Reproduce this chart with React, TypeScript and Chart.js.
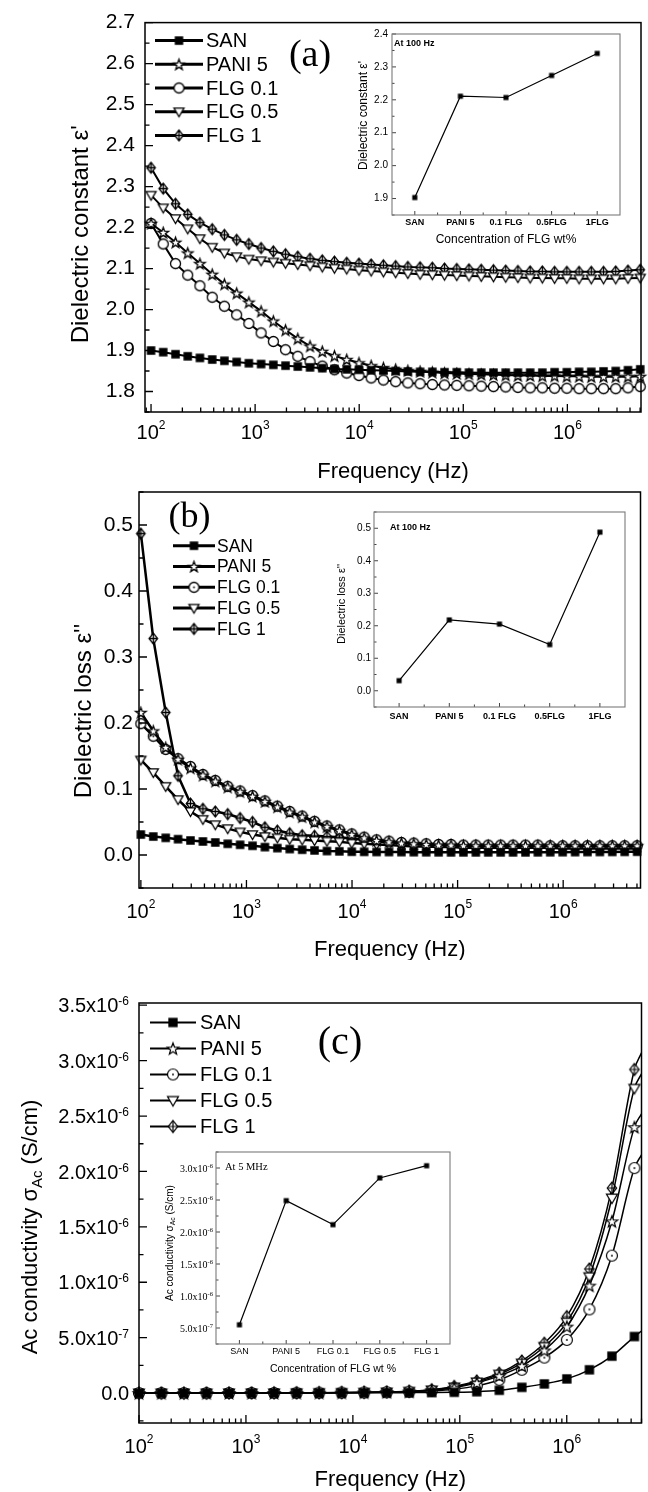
import { useEffect, useRef } from 'react';
import { Chart, registerables } from 'chart.js';

Chart.register(...registerables);

const SANS = '"Liberation Sans", Arimo, Arial, Helvetica, sans-serif';
const SERIF = '"Liberation Serif", Tinos, "Times New Roman", serif';

// ---------------- data ----------------
const seriesNames = ['SAN', 'PANI 5', 'FLG 0.1', 'FLG 0.5', 'FLG 1'];
const markerKinds = ['square', 'star', 'circle', 'tri', 'diamond'];

// measured frequencies (Hz), panels (a) and (b)
const freqAB = [100, 131, 172, 225, 295, 387, 507, 665, 871, 1142, 1496, 1961, 2570, 3370, 4416, 5788, 7586, 9943, 13030, 17080, 22390, 29340, 38460, 50410, 66070, 86600, 113500, 148800, 195000, 255600, 335000, 439100, 575400, 754200, 988600, 1296000, 1698000, 2226000, 2917000, 3824000, 5012000];

// (a) dielectric constant
const epsSAN = [1.900, 1.896, 1.891, 1.886, 1.882, 1.878, 1.875, 1.872, 1.869, 1.867, 1.865, 1.863, 1.861, 1.859, 1.857, 1.855, 1.854, 1.853, 1.852, 1.851, 1.850, 1.849, 1.848, 1.848, 1.847, 1.847, 1.846, 1.846, 1.846, 1.846, 1.846, 1.846, 1.846, 1.847, 1.847, 1.848, 1.848, 1.849, 1.850, 1.852, 1.854];
const epsPANI5 = [2.210, 2.188, 2.164, 2.138, 2.112, 2.086, 2.062, 2.040, 2.018, 1.996, 1.972, 1.950, 1.929, 1.911, 1.898, 1.887, 1.878, 1.870, 1.863, 1.858, 1.854, 1.851, 1.849, 1.847, 1.845, 1.844, 1.843, 1.842, 1.841, 1.840, 1.839, 1.839, 1.838, 1.838, 1.837, 1.837, 1.836, 1.836, 1.836, 1.836, 1.837];
const epsFLG01 = [2.210, 2.160, 2.112, 2.084, 2.058, 2.030, 2.008, 1.987, 1.966, 1.943, 1.922, 1.902, 1.886, 1.873, 1.862, 1.853, 1.845, 1.839, 1.833, 1.828, 1.824, 1.821, 1.819, 1.817, 1.816, 1.815, 1.814, 1.813, 1.812, 1.811, 1.810, 1.809, 1.809, 1.808, 1.808, 1.807, 1.807, 1.807, 1.807, 1.809, 1.812];
const epsFLG05 = [2.279, 2.248, 2.222, 2.197, 2.173, 2.152, 2.138, 2.129, 2.123, 2.119, 2.116, 2.113, 2.110, 2.107, 2.104, 2.101, 2.099, 2.096, 2.094, 2.092, 2.090, 2.088, 2.086, 2.085, 2.084, 2.083, 2.082, 2.081, 2.080, 2.079, 2.078, 2.077, 2.077, 2.076, 2.076, 2.075, 2.075, 2.075, 2.075, 2.076, 2.077];
const epsFLG1 = [2.346, 2.295, 2.258, 2.232, 2.212, 2.196, 2.182, 2.170, 2.160, 2.150, 2.142, 2.135, 2.129, 2.124, 2.120, 2.117, 2.114, 2.112, 2.110, 2.108, 2.106, 2.104, 2.103, 2.102, 2.100, 2.099, 2.098, 2.097, 2.096, 2.095, 2.094, 2.093, 2.093, 2.092, 2.092, 2.092, 2.092, 2.092, 2.093, 2.095, 2.097];

// (b) dielectric loss
const lossSAN = [0.031, 0.028, 0.026, 0.024, 0.022, 0.0205, 0.019, 0.017, 0.0155, 0.014, 0.012, 0.0105, 0.009, 0.008, 0.007, 0.006, 0.0055, 0.005, 0.0048, 0.0046, 0.0045, 0.0044, 0.0043, 0.0042, 0.0041, 0.004, 0.004, 0.004, 0.004, 0.004, 0.004, 0.004, 0.0041, 0.0042, 0.0043, 0.0044, 0.0045, 0.0046, 0.0047, 0.0048, 0.005];
const lossPANI5 = [0.216, 0.188, 0.163, 0.145, 0.132, 0.121, 0.112, 0.103, 0.096, 0.089, 0.081, 0.073, 0.065, 0.058, 0.050, 0.043, 0.037, 0.031, 0.026, 0.022, 0.020, 0.018, 0.017, 0.016, 0.015, 0.015, 0.014, 0.014, 0.014, 0.014, 0.014, 0.014, 0.014, 0.014, 0.014, 0.014, 0.014, 0.014, 0.014, 0.014, 0.014];
const lossFLG01 = [0.199, 0.180, 0.160, 0.146, 0.134, 0.122, 0.113, 0.104, 0.097, 0.090, 0.082, 0.074, 0.066, 0.059, 0.051, 0.044, 0.038, 0.032, 0.027, 0.023, 0.021, 0.019, 0.018, 0.017, 0.016, 0.016, 0.015, 0.015, 0.015, 0.015, 0.015, 0.015, 0.015, 0.014, 0.014, 0.014, 0.014, 0.014, 0.014, 0.014, 0.014];
const lossFLG05 = [0.144, 0.125, 0.104, 0.084, 0.066, 0.054, 0.046, 0.040, 0.035, 0.031, 0.028, 0.026, 0.024, 0.023, 0.022, 0.021, 0.020, 0.018, 0.017, 0.016, 0.015, 0.014, 0.013, 0.013, 0.012, 0.012, 0.011, 0.011, 0.011, 0.011, 0.011, 0.011, 0.011, 0.011, 0.010, 0.010, 0.010, 0.010, 0.010, 0.010, 0.010];
const lossFLG1 = [0.487, 0.328, 0.216, 0.120, 0.078, 0.070, 0.066, 0.062, 0.056, 0.050, 0.042, 0.037, 0.033, 0.030, 0.029, 0.028, 0.027, 0.025, 0.023, 0.021, 0.019, 0.018, 0.017, 0.016, 0.015, 0.015, 0.014, 0.014, 0.013, 0.013, 0.013, 0.013, 0.013, 0.013, 0.013, 0.013, 0.013, 0.013, 0.013, 0.013, 0.013];

// (c) ac conductivity, in units of 1e-6 S/cm
const freqC = [100, 162, 263, 428, 695, 1129, 1833, 2977, 4835, 7852, 12750, 20710, 33640, 54630, 88720, 144100, 234000, 380000, 617100, 1002000, 1628000, 2644000, 4294000, 5000000];
const sigSAN = [0.000, 0.000, 0.000, 0.000, 0.000, 0.000, 0.001, 0.001, 0.001, 0.002, 0.002, 0.003, 0.004, 0.005, 0.007, 0.012, 0.025, 0.052, 0.083, 0.128, 0.210, 0.333, 0.510, 0.560];
const sigPANI5 = [0.000, 0.000, 0.000, 0.000, 0.001, 0.001, 0.001, 0.002, 0.003, 0.004, 0.006, 0.009, 0.014, 0.025, 0.048, 0.092, 0.155, 0.245, 0.385, 0.600, 0.970, 1.550, 2.400, 2.520];
const sigFLG01 = [0.000, 0.000, 0.000, 0.000, 0.001, 0.001, 0.001, 0.002, 0.003, 0.004, 0.005, 0.008, 0.012, 0.020, 0.035, 0.065, 0.120, 0.210, 0.320, 0.480, 0.755, 1.240, 2.030, 2.150];
const sigFLG05 = [0.000, 0.000, 0.000, 0.000, 0.001, 0.001, 0.001, 0.002, 0.003, 0.004, 0.006, 0.009, 0.015, 0.028, 0.055, 0.100, 0.170, 0.270, 0.420, 0.640, 1.050, 1.760, 2.750, 2.880];
const sigFLG1 = [0.000, 0.000, 0.000, 0.000, 0.001, 0.001, 0.002, 0.002, 0.003, 0.005, 0.007, 0.010, 0.016, 0.030, 0.060, 0.110, 0.180, 0.290, 0.450, 0.690, 1.120, 1.850, 2.920, 3.070];

// insets
const insetCatsAB = ['SAN', 'PANI 5', '0.1 FLG', '0.5FLG', '1FLG'];
const insetCatsC = ['SAN', 'PANI 5', 'FLG 0.1', 'FLG 0.5', 'FLG 1'];
const epsAt100Hz = [1.903, 2.211, 2.207, 2.274, 2.341];
const lossAt100Hz = [0.031, 0.218, 0.205, 0.142, 0.488];
const sigmaAt5MHz = [0.55, 2.49, 2.115, 2.845, 3.036];

// tick labels
const epsTicks = [1.8, 1.9, 2.0, 2.1, 2.2, 2.3, 2.4, 2.5, 2.6, 2.7];
const lossTicks = [0.0, 0.1, 0.2, 0.3, 0.4, 0.5];
const insetEpsTicks = [1.9, 2.0, 2.1, 2.2, 2.3, 2.4];
const freqTickValues = [1e2, 1e3, 1e4, 1e5, 1e6];
const freqTickExps = ['2', '3', '4', '5', '6'];
const sigmaTickValues = [0, 0.5, 1.0, 1.5, 2.0, 2.5, 3.0, 3.5];
const sigmaTickLabels = [['0.0', ''], ['5.0x10', '-7'], ['1.0x10', '-6'], ['1.5x10', '-6'], ['2.0x10', '-6'], ['2.5x10', '-6'], ['3.0x10', '-6'], ['3.5x10', '-6']];
const insetSigmaTickValues = [0.5, 1.0, 1.5, 2.0, 2.5, 3.0];
const insetSigmaTickLabels = [['5.0x10', '-7'], ['1.0x10', '-6'], ['1.5x10', '-6'], ['2.0x10', '-6'], ['2.5x10', '-6'], ['3.0x10', '-6']];

// ---------------- helpers ----------------
function makeMarker(kind: string, size: number, lw: number, dot: boolean): HTMLCanvasElement {
  const dim = Math.ceil(size + 2 * lw + 4);
  const c = document.createElement('canvas');
  c.width = dim;
  c.height = dim;
  const g = c.getContext('2d') as CanvasRenderingContext2D;
  const cx = dim / 2;
  const cy = dim / 2;
  const r = size / 2;
  g.lineWidth = lw;
  g.strokeStyle = '#000';
  g.fillStyle = '#fff';
  g.beginPath();
  if (kind === 'square') {
    const s = r * 0.85;
    g.rect(cx - s, cy - s, 2 * s, 2 * s);
    g.fillStyle = '#000';
    g.fill();
  } else if (kind === 'circle') {
    g.arc(cx, cy, r, 0, Math.PI * 2);
    g.fill();
    g.stroke();
    if (dot) {
      g.beginPath();
      g.arc(cx, cy, 0.9, 0, Math.PI * 2);
      g.fillStyle = '#000';
      g.fill();
    }
  } else if (kind === 'star') {
    for (let k = 0; k < 10; k++) {
      const ang = -Math.PI / 2 + (k * Math.PI) / 5;
      const rr = k % 2 === 0 ? r * 1.12 : r * 0.46;
      const px = cx + rr * Math.cos(ang);
      const py = cy + 0.6 + rr * Math.sin(ang);
      if (k === 0) g.moveTo(px, py);
      else g.lineTo(px, py);
    }
    g.closePath();
    g.fill();
    g.stroke();
  } else if (kind === 'tri') {
    g.moveTo(cx - r, cy - r * 0.72);
    g.lineTo(cx + r, cy - r * 0.72);
    g.lineTo(cx, cy + r);
    g.closePath();
    g.fill();
    g.stroke();
  } else if (kind === 'diamond') {
    const w = r * 0.85;
    const h = r * 1.08;
    g.moveTo(cx, cy - h);
    g.lineTo(cx + w, cy);
    g.lineTo(cx, cy + h);
    g.lineTo(cx - w, cy);
    g.closePath();
    g.fill();
    g.stroke();
    g.beginPath();
    g.moveTo(cx, cy - h);
    g.lineTo(cx, cy + h);
    g.moveTo(cx - w, cy);
    g.lineTo(cx + w, cy);
    g.stroke();
  }
  return c;
}

type Part = { t: string; sub?: boolean };
type Deco = {
  whiteBg?: boolean;
  frameColor: string;
  frameWidth: number;
  tickColor: string;
  tickWidth: number;
  xKind: 'log' | 'cat';
  xMajor: number;
  xMinor: number;
  yStep: number;
  yMinorStep: number;
  yMajor: number;
  yMinor: number;
  xSup?: { values: number[]; sups: string[]; base: string; size: number; supSize: number; baseline: number; raise: number };
  ySup?: { values: number[]; labels: string[][]; size: number; supSize: number; family: string; gap: number; raise: number };
  yTitle?: { parts: Part[]; size: number; family: string; dx: number; dy: number };
  xTitle?: { text: string; size: number; family: string; dy: number };
  texts?: { text: string; size: number; family: string; weight: string; dx: number; dy: number; align: CanvasTextAlign }[];
  legend?: { markers: HTMLCanvasElement[]; names: string[]; x0: number; x1: number; tx: number; y0: number; row: number; size: number; lw: number };
};

function drawRich(ctx: CanvasRenderingContext2D, parts: Part[], cx: number, cy: number, size: number, family: string) {
  ctx.save();
  ctx.translate(cx, cy);
  ctx.rotate(-Math.PI / 2);
  ctx.textBaseline = 'middle';
  ctx.textAlign = 'left';
  const subSize = size * 0.68;
  const widths = parts.map((p) => {
    ctx.font = `${p.sub ? subSize : size}px ${family}`;
    return ctx.measureText(p.t).width;
  });
  let x = -widths.reduce((s, w) => s + w, 0) / 2;
  parts.forEach((p, i) => {
    ctx.font = `${p.sub ? subSize : size}px ${family}`;
    ctx.fillText(p.t, x, p.sub ? size * 0.32 : 0);
    x += widths[i];
  });
  ctx.restore();
}

function decoPlugin(d: Deco) {
  return {
    id: 'deco',
    beforeDraw(chart: any) {
      if (!d.whiteBg) return;
      const { ctx, chartArea: a } = chart;
      ctx.save();
      ctx.fillStyle = '#fff';
      ctx.fillRect(a.left, a.top, a.right - a.left, a.bottom - a.top);
      ctx.restore();
    },
    afterDraw(chart: any) {
      const ctx = chart.ctx as CanvasRenderingContext2D;
      const a = chart.chartArea;
      const xs = chart.scales.x;
      const ys = chart.scales.y;
      ctx.save();
      // inward ticks
      ctx.strokeStyle = d.tickColor;
      ctx.lineWidth = d.tickWidth;
      ctx.beginPath();
      if (d.xKind === 'log') {
        const e0 = Math.floor(Math.log10(xs.min));
        const e1 = Math.ceil(Math.log10(xs.max));
        for (let e = e0; e <= e1; e++) {
          for (let m = 1; m <= 9; m++) {
            const v = m * Math.pow(10, e);
            if (v < xs.min * 0.9999 || v > xs.max * 1.0001) continue;
            const px = xs.getPixelForValue(v);
            ctx.moveTo(px, a.bottom);
            ctx.lineTo(px, a.bottom - (m === 1 ? d.xMajor : d.xMinor));
          }
        }
      } else {
        const n = chart.data.labels.length;
        for (let i = 0; i < n; i++) {
          const px = xs.getPixelForValue(i);
          ctx.moveTo(px, a.bottom);
          ctx.lineTo(px, a.bottom - d.xMajor);
          if (i < n - 1) {
            const pm = xs.getPixelForValue(i + 0.5);
            ctx.moveTo(pm, a.bottom);
            ctx.lineTo(pm, a.bottom - d.xMinor);
          }
        }
      }
      const k0 = Math.ceil(ys.min / d.yMinorStep - 1e-6);
      const k1 = Math.floor(ys.max / d.yMinorStep + 1e-6);
      for (let k = k0; k <= k1; k++) {
        const v = k * d.yMinorStep;
        const r = v / d.yStep;
        const major = Math.abs(r - Math.round(r)) < 1e-6;
        const py = ys.getPixelForValue(v);
        ctx.moveTo(a.left, py);
        ctx.lineTo(a.left + (major ? d.yMajor : d.yMinor), py);
      }
      ctx.stroke();
      // frame
      ctx.strokeStyle = d.frameColor;
      ctx.lineWidth = d.frameWidth;
      ctx.strokeRect(a.left, a.top, a.right - a.left, a.bottom - a.top);

      ctx.fillStyle = '#000';
      // x labels with superscripts
      if (d.xSup) {
        const s = d.xSup;
        ctx.textBaseline = 'alphabetic';
        ctx.textAlign = 'left';
        s.values.forEach((v, i) => {
          const px = xs.getPixelForValue(v);
          ctx.font = `${s.size}px ${SANS}`;
          const w1 = ctx.measureText(s.base).width;
          ctx.font = `${s.supSize}px ${SANS}`;
          const w2 = ctx.measureText(s.sups[i]).width;
          const x0 = px - (w1 + w2) / 2;
          const by = a.bottom + s.baseline;
          ctx.font = `${s.size}px ${SANS}`;
          ctx.fillText(s.base, x0, by);
          ctx.font = `${s.supSize}px ${SANS}`;
          ctx.fillText(s.sups[i], x0 + w1, by - s.raise);
        });
      }
      // y labels with superscripts
      if (d.ySup) {
        const s = d.ySup;
        ctx.textBaseline = 'alphabetic';
        ctx.textAlign = 'left';
        s.values.forEach((v, i) => {
          const py = ys.getPixelForValue(v);
          const [base, sup] = s.labels[i];
          ctx.font = `${s.size}px ${s.family}`;
          const w1 = ctx.measureText(base).width;
          ctx.font = `${s.supSize}px ${s.family}`;
          const w2 = sup ? ctx.measureText(sup).width : 0;
          const x0 = a.left - s.gap - w1 - w2;
          const by = py + s.size * 0.36;
          ctx.font = `${s.size}px ${s.family}`;
          ctx.fillText(base, x0, by);
          if (sup) {
            ctx.font = `${s.supSize}px ${s.family}`;
            ctx.fillText(sup, x0 + w1, by - s.raise);
          }
        });
      }
      // axis titles
      if (d.yTitle) {
        const t = d.yTitle;
        drawRich(ctx, t.parts, a.left + t.dx, (a.top + a.bottom) / 2 + t.dy, t.size, t.family);
      }
      if (d.xTitle) {
        const t = d.xTitle;
        ctx.font = `${t.size}px ${t.family}`;
        ctx.textAlign = 'center';
        ctx.textBaseline = 'middle';
        ctx.fillText(t.text, (a.left + a.right) / 2, a.bottom + t.dy);
      }
      // free texts
      (d.texts || []).forEach((t) => {
        ctx.font = `${t.weight} ${t.size}px ${t.family}`;
        ctx.textAlign = t.align;
        ctx.textBaseline = 'middle';
        ctx.fillText(t.text, a.left + t.dx, a.top + t.dy);
      });
      // legend
      if (d.legend) {
        const L = d.legend;
        L.names.forEach((name, i) => {
          const y = a.top + L.y0 + i * L.row;
          ctx.strokeStyle = '#000';
          ctx.lineWidth = L.lw;
          ctx.beginPath();
          ctx.moveTo(a.left + L.x0, y);
          ctx.lineTo(a.left + L.x1, y);
          ctx.stroke();
          const m = L.markers[i];
          ctx.drawImage(m, a.left + (L.x0 + L.x1) / 2 - m.width / 2, y - m.height / 2);
          ctx.font = `${L.size}px ${SANS}`;
          ctx.textAlign = 'left';
          ctx.textBaseline = 'middle';
          ctx.fillText(name, a.left + L.tx, y + 1);
        });
      }
      ctx.restore();
    },
  };
}

function fmt1(v: any) {
  const n = Number(v);
  return Math.abs(n) < 1e-9 ? '0.0' : n.toFixed(1);
}

type MainSpec = {
  key: string;
  x: number; y: number; w: number; h: number;
  ca: { left: number; top: number; right: number; bottom: number };
  freq: number[];
  series: number[][];
  xMin: number; xMax: number; yMin: number; yMax: number;
  yTicks: number[];
  lineWidth: number; markerSize: number; markerLw: number; dots: boolean; smooth: boolean; hideLast: boolean;
  yLabelSize: number; yLabelPad: number;
  deco: (markers: HTMLCanvasElement[]) => Deco;
  plainY: boolean;
};

function buildMain(p: MainSpec) {
  const markers = markerKinds.map((k) => makeMarker(k, p.markerSize, p.markerLw, p.dots));
  const last = p.freq.length - 1;
  return {
    type: 'line',
    data: {
      datasets: p.series.map((arr, i) => ({
        label: seriesNames[i],
        data: p.freq.map((f, j) => ({ x: f, y: arr[j] })),
        borderColor: '#000',
        backgroundColor: '#000',
        borderWidth: p.lineWidth,
        pointStyle: markers[i],
        pointRadius: p.hideLast ? (c: any) => (c.dataIndex === last ? 0 : 5) : 5,
        pointHoverRadius: 5,
        tension: 0,
        cubicInterpolationMode: p.smooth ? 'monotone' : 'default',
        clip: false,
      })),
    },
    options: {
      animation: false,
      responsive: false,
      maintainAspectRatio: false,
      devicePixelRatio: 1,
      events: [],
      layout: { padding: { left: 0, top: p.ca.top, right: p.w - p.ca.right, bottom: 0 } },
      plugins: { legend: { display: false }, tooltip: { enabled: false } },
      scales: {
        x: {
          type: 'logarithmic',
          min: p.xMin,
          max: p.xMax,
          grid: { display: false, drawTicks: false },
          border: { display: false },
          ticks: { display: false },
          afterFit: (s: any) => { s.height = p.h - p.ca.bottom; },
        },
        y: {
          type: 'linear',
          min: p.yMin,
          max: p.yMax,
          grid: { display: false, drawTicks: false },
          border: { display: false },
          ticks: {
            display: p.plainY,
            autoSkip: false,
            color: '#000',
            padding: p.yLabelPad,
            font: { family: SANS, size: p.yLabelSize },
            callback: fmt1,
          },
          afterBuildTicks: (s: any) => { s.ticks = p.yTicks.map((v) => ({ value: v })); },
          afterFit: (s: any) => { s.width = p.ca.left; },
        },
      },
    },
    plugins: [decoPlugin(p.deco(markers))],
  };
}

type InsetSpec = {
  key: string;
  x: number; y: number; w: number; h: number;
  ca: { left: number; top: number; right: number; bottom: number };
  cats: string[];
  values: number[];
  yMin: number; yMax: number;
  yTicks: number[];
  plainY: boolean;
  yLabelSize: number; yLabelPad: number;
  xLabelSize: number; xLabelWeight: string; xLabelPad: number;
  deco: Deco;
};

function buildInset(p: InsetSpec) {
  const sq = makeMarker('square', 6, 1, false);
  return {
    type: 'line',
    data: {
      labels: p.cats,
      datasets: [{
        label: 'inset',
        data: p.values,
        borderColor: '#000',
        backgroundColor: '#000',
        borderWidth: 1.2,
        pointStyle: sq,
        pointRadius: 3,
        tension: 0,
        clip: false,
      }],
    },
    options: {
      animation: false,
      responsive: false,
      maintainAspectRatio: false,
      devicePixelRatio: 1,
      events: [],
      layout: { padding: { left: 0, top: p.ca.top, right: p.w - p.ca.right, bottom: 0 } },
      plugins: { legend: { display: false }, tooltip: { enabled: false } },
      scales: {
        x: {
          type: 'category',
          offset: true,
          grid: { display: false, drawTicks: false },
          border: { display: false },
          ticks: {
            color: '#000',
            padding: p.xLabelPad,
            maxRotation: 0,
            minRotation: 0,
            autoSkip: false,
            font: { family: SANS, size: p.xLabelSize, weight: p.xLabelWeight },
          },
          afterFit: (s: any) => { s.height = p.h - p.ca.bottom; },
        },
        y: {
          type: 'linear',
          min: p.yMin,
          max: p.yMax,
          grid: { display: false, drawTicks: false },
          border: { display: false },
          ticks: {
            display: p.plainY,
            autoSkip: false,
            color: '#000',
            padding: p.yLabelPad,
            font: { family: SANS, size: p.yLabelSize },
            callback: fmt1,
          },
          afterBuildTicks: (s: any) => { s.ticks = p.yTicks.map((v) => ({ value: v })); },
          afterFit: (s: any) => { s.width = p.ca.left; },
        },
      },
    },
    plugins: [decoPlugin(p.deco)],
  };
}

// ---------------- panel specs ----------------
const mainFrame = { frameColor: '#000', frameWidth: 1.5, tickColor: '#000', tickWidth: 1.3, xKind: 'log' as const, xMajor: 8, xMinor: 4.5, yMajor: 8, yMinor: 4.5 };
const insetFrame = { whiteBg: true, frameColor: '#7a7a7a', frameWidth: 1.1, tickColor: '#444', tickWidth: 1, xKind: 'cat' as const, xMajor: 4, xMinor: 2.5, yMajor: 4, yMinor: 2.5 };

const panelA: MainSpec = {
  key: 'a', x: 0, y: 0, w: 648, h: 505,
  ca: { left: 145, top: 20, right: 642, bottom: 412 },
  freq: freqAB,
  series: [epsSAN, epsPANI5, epsFLG01, epsFLG05, epsFLG1],
  xMin: 87.5, xMax: 5.1e6, yMin: 1.75, yMax: 2.7, yTicks: epsTicks,
  lineWidth: 2, markerSize: 10, markerLw: 1.3, dots: false, smooth: false, hideLast: false,
  yLabelSize: 21, yLabelPad: 10, plainY: true,
  deco: (markers) => ({
    ...mainFrame,
    yStep: 0.1, yMinorStep: 0.05,
    xSup: { values: freqTickValues, sups: freqTickExps, base: '10', size: 20, supSize: 12, baseline: 27, raise: 10 },
    yTitle: { parts: [{ t: "Dielectric constant ε'" }], size: 24, family: SANS, dx: -63.5, dy: 17 },
    xTitle: { text: 'Frequency (Hz)', size: 22, family: SANS, dy: 60 },
    texts: [{ text: '(a)', size: 38, family: SERIF, weight: 'normal', dx: 165, dy: 33, align: 'center' }],
    legend: { markers, names: seriesNames, x0: 10, x1: 58, tx: 61, y0: 18, row: 23.7, size: 20, lw: 3 },
  }),
};

const panelB: MainSpec = {
  key: 'b', x: 0, y: 470, w: 648, h: 490,
  ca: { left: 139, top: 22, right: 641, bottom: 418 },
  freq: freqAB,
  series: [lossSAN, lossPANI5, lossFLG01, lossFLG05, lossFLG1],
  xMin: 96, xMax: 5.4e6, yMin: -0.05, yMax: 0.55, yTicks: lossTicks,
  lineWidth: 2.5, markerSize: 10, markerLw: 1.3, dots: true, smooth: false, hideLast: false,
  yLabelSize: 21, yLabelPad: 6, plainY: true,
  deco: (markers) => ({
    ...mainFrame,
    yStep: 0.1, yMinorStep: 0.05,
    xSup: { values: freqTickValues, sups: freqTickExps, base: '10', size: 20, supSize: 12, baseline: 30, raise: 10 },
    yTitle: { parts: [{ t: "Dielectric loss ε''" }], size: 24, family: SANS, dx: -55, dy: 21 },
    xTitle: { text: 'Frequency (Hz)', size: 22, family: SANS, dy: 62 },
    texts: [{ text: '(b)', size: 36, family: SERIF, weight: 'normal', dx: 50.5, dy: 26, align: 'center' }],
    legend: { markers, names: seriesNames, x0: 34, x1: 76, tx: 78, y0: 53.7, row: 20.8, size: 17.5, lw: 3 },
  }),
};

const panelC: MainSpec = {
  key: 'c', x: 0, y: 975, w: 648, h: 517,
  ca: { left: 139, top: 28, right: 644, bottom: 448 },
  freq: freqC,
  series: [sigSAN, sigPANI5, sigFLG01, sigFLG05, sigFLG1],
  xMin: 100, xMax: 5e6, yMin: -0.27, yMax: 3.52, yTicks: sigmaTickValues,
  lineWidth: 1.5, markerSize: 11, markerLw: 1.2, dots: true, smooth: true, hideLast: true,
  yLabelSize: 20, yLabelPad: 10, plainY: false,
  deco: (markers) => ({
    ...mainFrame,
    yStep: 0.5, yMinorStep: 0.25,
    xSup: { values: freqTickValues, sups: freqTickExps, base: '10', size: 20, supSize: 12, baseline: 30, raise: 10 },
    ySup: { values: sigmaTickValues, labels: sigmaTickLabels, size: 20, supSize: 12, family: SANS, gap: 10, raise: 7 },
    yTitle: { parts: [{ t: 'Ac conductivity σ' }, { t: 'Ac', sub: true }, { t: ' (S/cm)' }], size: 22, family: SANS, dx: -108, dy: 14 },
    xTitle: { text: 'Frequency (Hz)', size: 22, family: SANS, dy: 57 },
    texts: [{ text: '(c)', size: 40, family: SERIF, weight: 'normal', dx: 201, dy: 40, align: 'center' }],
    legend: { markers, names: seriesNames, x0: 11, x1: 57, tx: 61, y0: 19.5, row: 26, size: 20, lw: 2 },
  }),
};

const insetA: InsetSpec = {
  key: 'ia', x: 335, y: 22, w: 295, h: 235,
  ca: { left: 57, top: 12, right: 285, bottom: 193 },
  cats: insetCatsAB, values: epsAt100Hz,
  yMin: 1.85, yMax: 2.4, yTicks: insetEpsTicks, plainY: true,
  yLabelSize: 10, yLabelPad: 4, xLabelSize: 9, xLabelWeight: 'bold', xLabelPad: 2,
  deco: {
    ...insetFrame, yStep: 0.1, yMinorStep: 0.05,
    yTitle: { parts: [{ t: "Dielectric constant ε'" }], size: 12, family: SANS, dx: -28, dy: -9 },
    xTitle: { text: 'Concentration of FLG wt%', size: 12, family: SANS, dy: 24.5 },
    texts: [{ text: 'At 100 Hz', size: 9, family: SANS, weight: 'bold', dx: 2, dy: 9.5, align: 'left' }],
  },
};

const insetB: InsetSpec = {
  key: 'ib', x: 315, y: 500, w: 320, h: 230,
  ca: { left: 59, top: 12, right: 310, bottom: 207 },
  cats: insetCatsAB, values: lossAt100Hz,
  yMin: -0.05, yMax: 0.55, yTicks: lossTicks, plainY: true,
  yLabelSize: 10, yLabelPad: 3, xLabelSize: 9, xLabelWeight: 'bold', xLabelPad: 4,
  deco: {
    ...insetFrame, yStep: 0.1, yMinorStep: 0.05,
    yTitle: { parts: [{ t: "Dielectric loss ε''" }], size: 11, family: SANS, dx: -32, dy: -5.5 },
    texts: [{ text: 'At 100 Hz', size: 9, family: SANS, weight: 'bold', dx: 16, dy: 16, align: 'left' }],
  },
};

const insetC: InsetSpec = {
  key: 'ic', x: 150, y: 1140, w: 310, h: 240,
  ca: { left: 66, top: 12, right: 300, bottom: 204 },
  cats: insetCatsC, values: sigmaAt5MHz,
  yMin: 0.25, yMax: 3.25, yTicks: insetSigmaTickValues, plainY: false,
  yLabelSize: 10, yLabelPad: 3, xLabelSize: 9, xLabelWeight: 'normal', xLabelPad: 2,
  deco: {
    ...insetFrame, yStep: 0.5, yMinorStep: 0.25,
    ySup: { values: insetSigmaTickValues, labels: insetSigmaTickLabels, size: 10, supSize: 6.5, family: SERIF, gap: 3, raise: 4 },
    yTitle: { parts: [{ t: 'Ac conductivity σ' }, { t: 'Ac', sub: true }, { t: ' (S/cm)' }], size: 10, family: SANS, dx: -46, dy: -5 },
    xTitle: { text: 'Concentration of FLG wt %', size: 10.5, family: SANS, dy: 25.3 },
    texts: [{ text: 'At 5 MHz', size: 10.5, family: SERIF, weight: 'normal', dx: 9, dy: 15.3, align: 'left' }],
  },
};

type AnySpec = { key: string; x: number; y: number; w: number; h: number; build: () => any };

const specs: AnySpec[] = [
  { ...panelA, build: () => buildMain(panelA) },
  { ...insetA, build: () => buildInset(insetA) },
  { ...panelB, build: () => buildMain(panelB) },
  { ...insetB, build: () => buildInset(insetB) },
  { ...panelC, build: () => buildMain(panelC) },
  { ...insetC, build: () => buildInset(insetC) },
];

function ChartCanvas({ spec }: { spec: AnySpec }) {
  const ref = useRef<HTMLCanvasElement>(null);
  useEffect(() => {
    const el = ref.current;
    if (!el) return;
    const chart = new Chart(el, spec.build());
    return () => chart.destroy();
  }, [spec]);
  return (
    <canvas
      ref={ref}
      width={spec.w}
      height={spec.h}
      style={{ position: 'absolute', left: spec.x, top: spec.y, width: spec.w, height: spec.h }}
    />
  );
}

export default function App() {
  return (
    <div style={{ position: 'absolute', left: 0, top: 0, width: 648, height: 1492, background: '#fff', overflow: 'hidden' }}>
      {specs.map((s) => (
        <ChartCanvas key={s.key} spec={s} />
      ))}
    </div>
  );
}
